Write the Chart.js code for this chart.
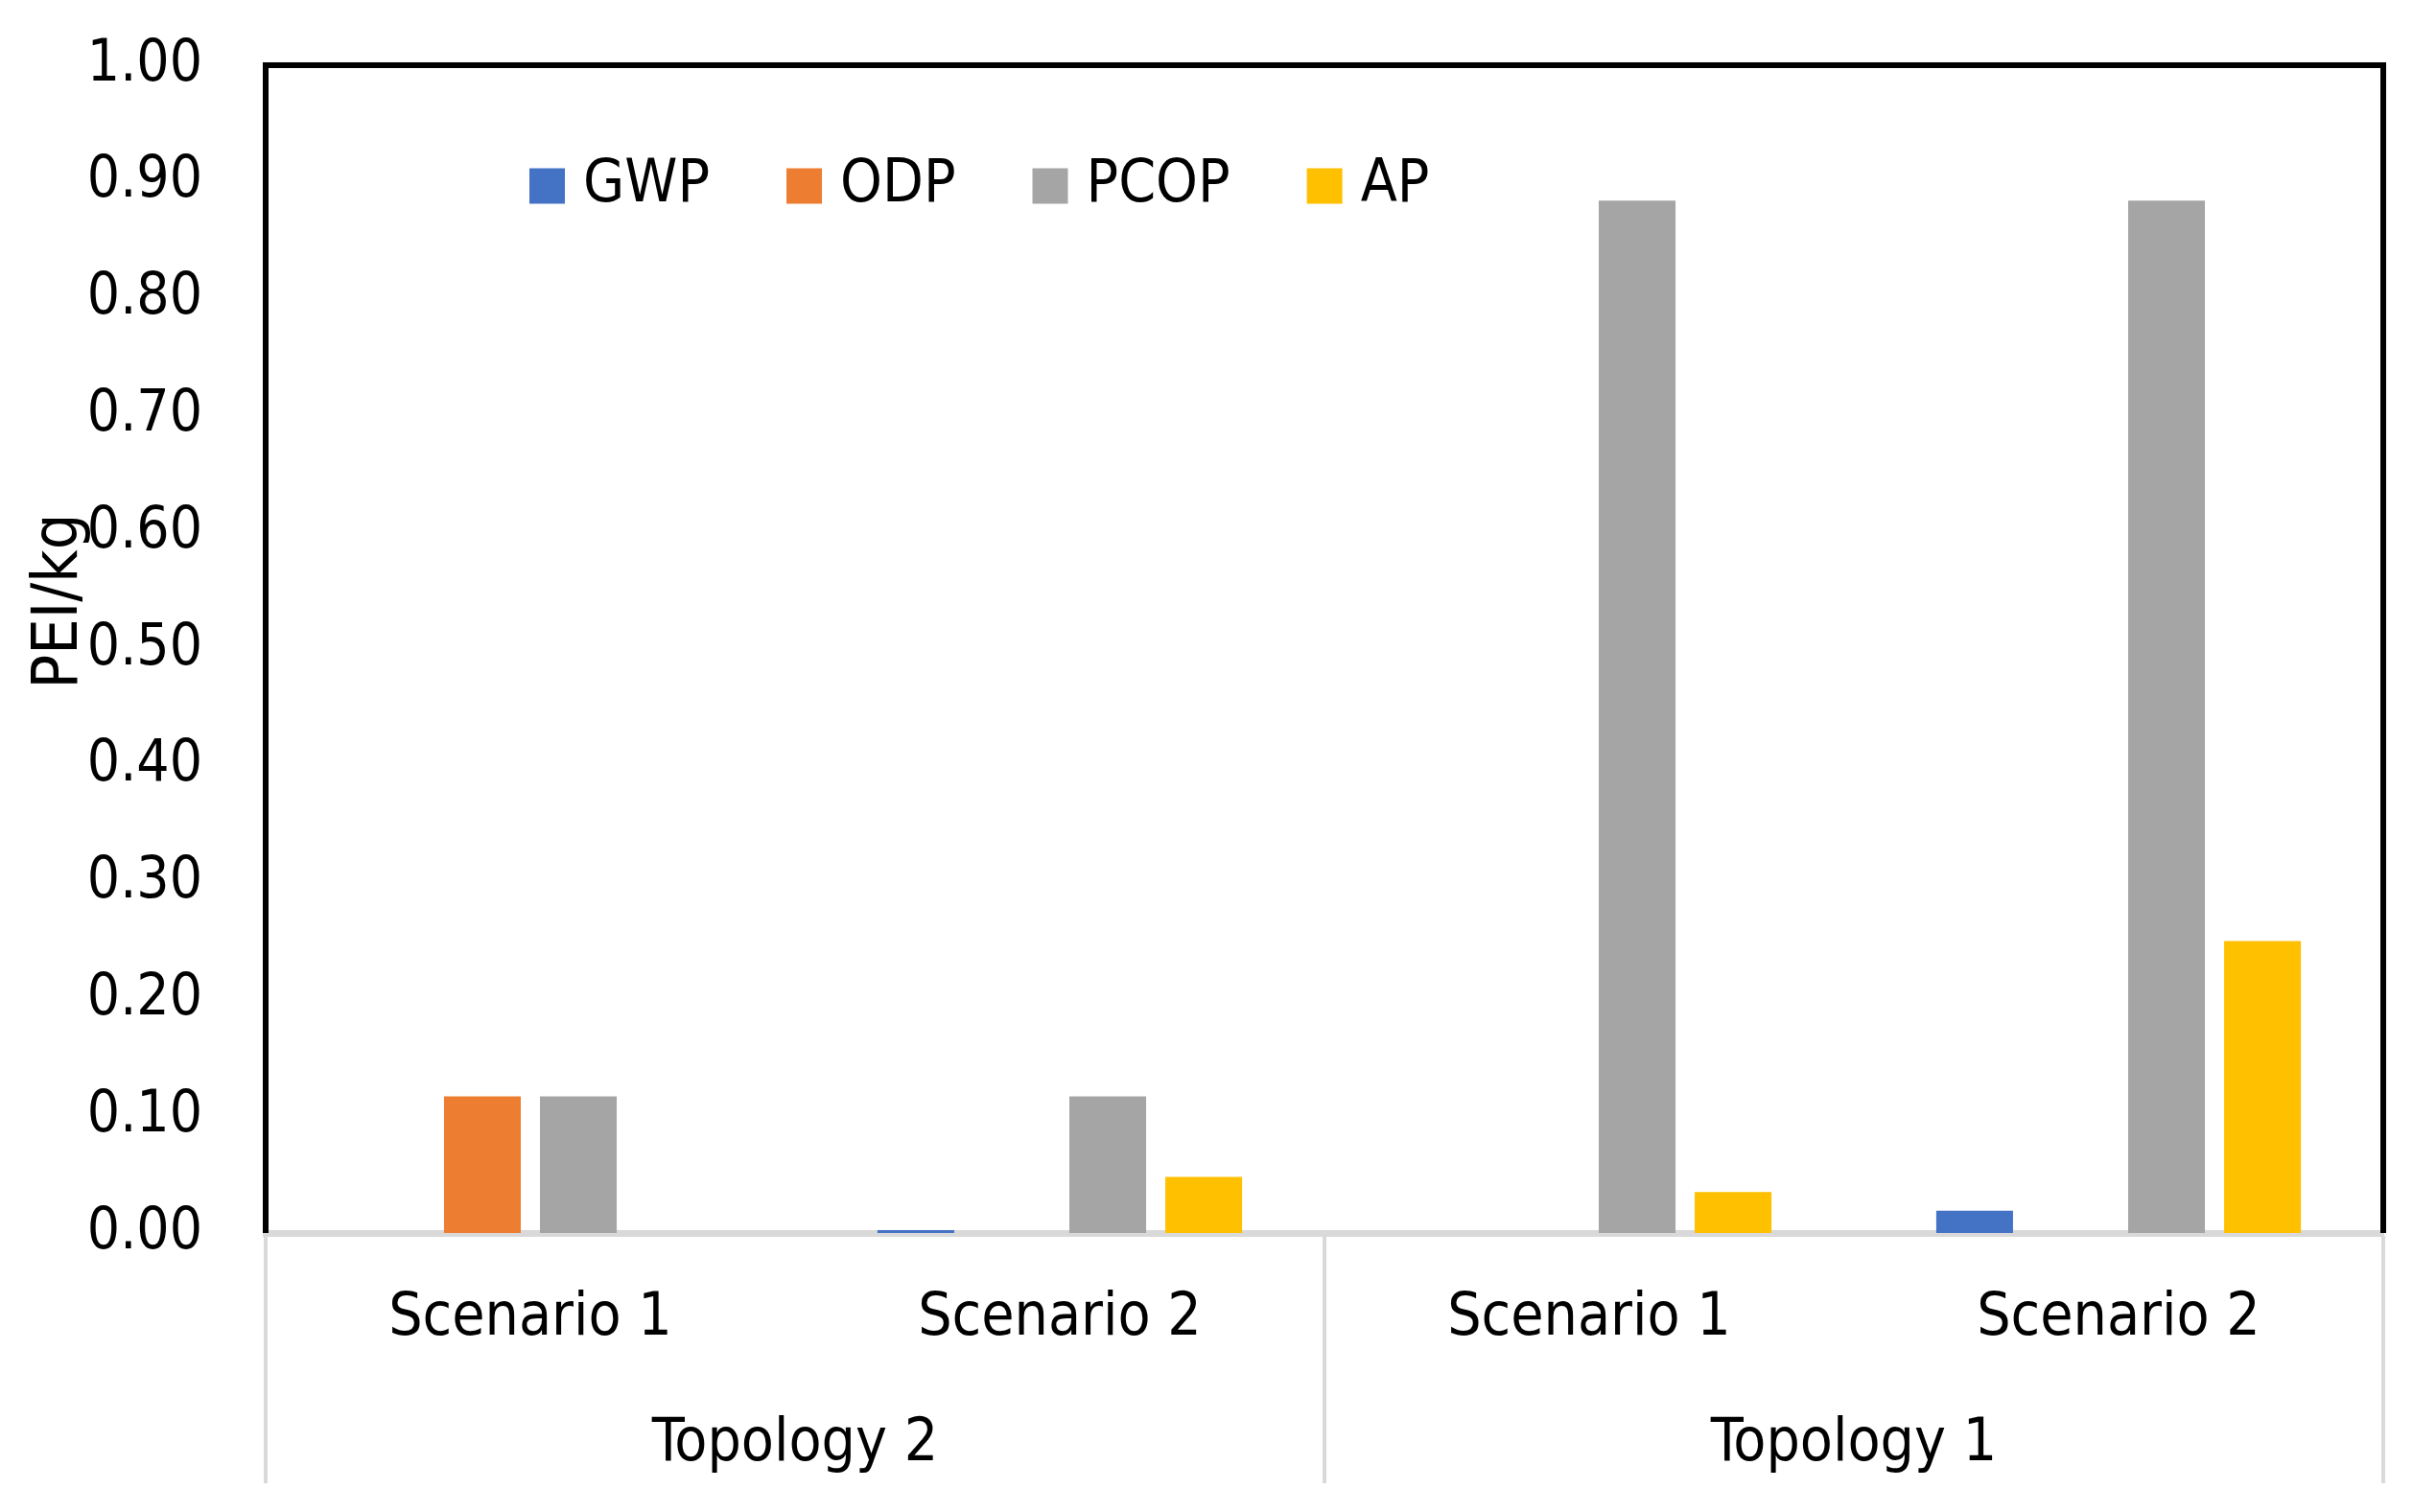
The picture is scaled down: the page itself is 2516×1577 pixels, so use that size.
<!DOCTYPE html>
<html>
<head>
<meta charset="utf-8">
<script src="https://cdn.jsdelivr.net/npm/chart.js@4.4.0/dist/chart.umd.min.js"></script>
<style>
  html, body { margin: 0; padding: 0; background: #fff; }
  canvas { display: block; }
</style>
</head>
<body>
<canvas id="chart" width="2516" height="1577"></canvas>
<script>
// valores
const scenarios = ["Scenario 1", "Scenario 2", "Scenario 1", "Scenario 2"];
const topologies = ["Topology 2", "Topology 1"];
const gwp  = [0,     0.0025, 0,     0.019];
const odp  = [0.117, 0,      0,     0];
const pcop = [0.117, 0.117,  0.884, 0.884];
const ap   = [0,     0.048,  0.035, 0.250];
const yTitle = "PEI/kg";

const cond = "'DejaVu Sans Condensed', 'DejaVu Sans', sans-serif";

// marco negro arriba/izquierda/derecha
const framePlugin = {
  id: "frame",
  afterDraw(chart) {
    const { ctx, chartArea: a } = chart;
    ctx.save();
    ctx.strokeStyle = "#000";
    ctx.lineWidth = 6;
    ctx.beginPath();
    ctx.moveTo(a.left, a.bottom);
    ctx.lineTo(a.left, a.top);
    ctx.lineTo(a.right, a.top);
    ctx.lineTo(a.right, a.bottom);
    ctx.stroke();
    ctx.restore();
  }
};

// lineas separadoras de los grupos en el eje x
const groupLines = {
  id: "groupLines",
  afterDraw(chart) {
    const { ctx, chartArea: a } = chart;
    const s = chart.scales.x2;
    const w = (s.right - s.left) / topologies.length;
    ctx.save();
    ctx.strokeStyle = "#d9d9d9";
    ctx.lineWidth = 4;
    for (let i = 0; i <= topologies.length; i++) {
      const px = s.left + i * w;
      ctx.beginPath();
      ctx.moveTo(px, a.bottom + 3);
      ctx.lineTo(px, s.bottom);
      ctx.stroke();
    }
    ctx.restore();
  }
};

// titulo del eje y (un poco por encima del centro, como en Excel)
const yTitlePlugin = {
  id: "yTitle",
  afterDraw(chart) {
    const { ctx, chartArea: a } = chart;
    ctx.save();
    ctx.translate(80, (a.top + a.bottom) / 2 - 50);
    ctx.rotate(-Math.PI / 2);
    ctx.font = "66px " + cond;
    ctx.fillStyle = "#000";
    ctx.textAlign = "center";
    ctx.textBaseline = "alphabetic";
    ctx.fillText(yTitle, 0, 0);
    ctx.restore();
  }
};

// leyenda dentro del area del grafico
const insideLegend = {
  id: "insideLegend",
  afterDraw(chart) {
    const ctx = chart.ctx;
    const box = 37, gap = 19, spacing = 80, y = 194;
    let x = chart.chartArea.left + 275;
    ctx.save();
    ctx.font = "62px " + cond;
    ctx.textBaseline = "middle";
    chart.data.datasets.forEach(ds => {
      ctx.fillStyle = ds.backgroundColor;
      ctx.fillRect(x, y - box / 2, box, box);
      x += box + gap;
      ctx.fillStyle = "#000";
      ctx.fillText(ds.label, x, y);
      x += ctx.measureText(ds.label).width + spacing;
    });
    ctx.restore();
  }
};

const barOpts = { borderWidth: 0, categoryPercentage: 0.725, barPercentage: 0.8 };

new Chart(document.getElementById("chart"), {
  type: "bar",
  data: {
    labels: scenarios,
    datasets: [
      { label: "GWP",  data: gwp,  backgroundColor: "#4472C4", ...barOpts },
      { label: "ODP",  data: odp,  backgroundColor: "#ED7D31", ...barOpts },
      { label: "PCOP", data: pcop, backgroundColor: "#A5A5A5", ...barOpts },
      { label: "AP",   data: ap,   backgroundColor: "#FFC000", ...barOpts }
    ]
  },
  options: {
    responsive: false,
    devicePixelRatio: 1,
    animation: false,
    layout: { padding: { top: 68, right: 31, bottom: 30, left: 0 } },
    plugins: {
      legend: { display: false },
      tooltip: { enabled: false }
    },
    scales: {
      x: {
        type: "category",
        position: "bottom",
        weight: 0,
        offset: true,
        grid: { display: false, drawTicks: false },
        border: { display: true, color: "#d9d9d9", width: 7 },
        ticks: { color: "#000", font: { family: cond, size: 62 }, padding: 53, maxRotation: 0 },
        afterFit: s => { s.height = 130; s.paddingLeft = 0; s.paddingRight = 0; }
      },
      x2: {
        type: "category",
        position: "bottom",
        weight: 1,
        labels: topologies,
        offset: true,
        grid: { display: false, drawTicks: false },
        border: { display: false },
        ticks: { color: "#000", font: { family: cond, size: 62 }, padding: 54, maxRotation: 0 },
        afterFit: s => { s.height = 131; s.paddingLeft = 0; s.paddingRight = 0; }
      },
      y: {
        min: 0,
        max: 1,
        grid: { display: false, drawTicks: false },
        border: { display: false },
        ticks: {
          stepSize: 0.1,
          color: "#000",
          padding: 66,
          font: { family: cond, size: 60 },
          callback: v => v.toFixed(2)
        },
        afterFit: s => { s.width = 277; s.paddingTop = 0; s.paddingBottom = 0; }
      }
    }
  },
  plugins: [framePlugin, groupLines, yTitlePlugin, insideLegend]
});
</script>
</body>
</html>
